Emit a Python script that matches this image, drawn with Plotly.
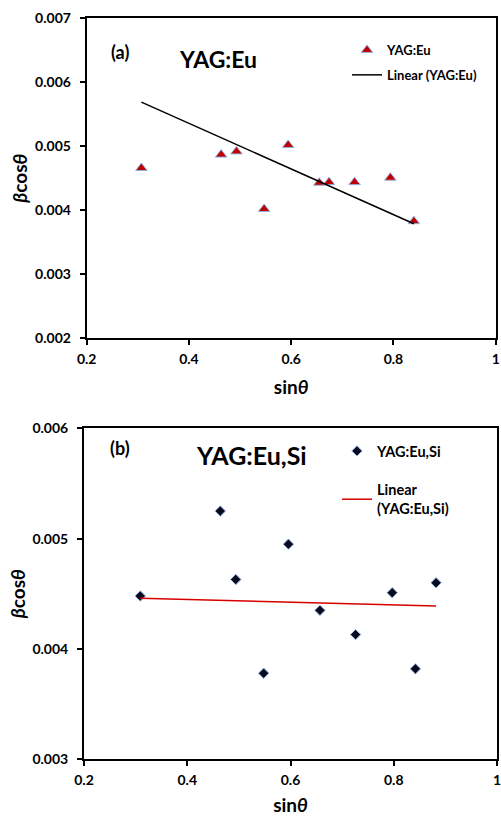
import plotly.graph_objects as go

W, H = 501, 816

# ---- data (a) YAG:Eu ----
sin_a = [0.307, 0.463, 0.493, 0.547, 0.594, 0.655, 0.674, 0.724, 0.794, 0.840]
bcos_a = [0.00466, 0.00487, 0.00492, 0.00402, 0.00502, 0.00443, 0.00444, 0.00444, 0.00451, 0.00383]
trend_a_x = [0.307, 0.840]
trend_a_y = [0.00569, 0.00379]

# ---- data (b) YAG:Eu,Si ----
sin_b = [0.309, 0.464, 0.494, 0.548, 0.596, 0.657, 0.726, 0.797, 0.842, 0.882]
bcos_b = [0.00448, 0.00525, 0.00463, 0.00378, 0.00495, 0.00435, 0.00413, 0.00451, 0.00382, 0.00460]
trend_b_x = [0.309, 0.882]
trend_b_y = [0.00446, 0.00439]

x_ticks = [0.2, 0.4, 0.6, 0.8, 1.0]
x_ticklabels = ["0.2", "0.4", "0.6", "0.8", "1"]
ya_ticks = [0.002, 0.003, 0.004, 0.005, 0.006, 0.007]
yb_ticks = [0.003, 0.004, 0.005, 0.006]

FONT = "Lato"

def px(x):
    return x / W

def py(y):
    return 1 - y / H

fig = go.Figure()

fig.add_trace(go.Scatter(
    x=sin_a, y=bcos_a, mode="markers", name="YAG:Eu",
    marker=dict(symbol="triangle-up", size=10, color="#C00000",
                line=dict(color="#8FB4E3", width=1)),
    xaxis="x", yaxis="y", legend="legend", legendgroup="a1"))
fig.add_trace(go.Scatter(
    x=trend_a_x, y=trend_a_y, mode="lines", name="Linear (YAG:Eu)",
    line=dict(color="black", width=1.5),
    xaxis="x", yaxis="y", legend="legend", legendgroup="a2"))

fig.add_trace(go.Scatter(
    x=sin_b, y=bcos_b, mode="markers", name="YAG:Eu,Si",
    marker=dict(symbol="diamond", size=8, color="#0A0A1E",
                line=dict(color="#8FB4E3", width=1)),
    xaxis="x2", yaxis="y2", legend="legend2", legendgroup="b1"))
fig.add_trace(go.Scatter(
    x=trend_b_x, y=trend_b_y, mode="lines", name="Linear<br>(YAG:Eu,Si)",
    line=dict(color="#D80000", width=1.5),
    xaxis="x2", yaxis="y2", legend="legend2", legendgroup="b2"))

axis_common = dict(
    showline=True, linecolor="black", linewidth=2, mirror=True,
    ticks="outside", ticklen=5, tickwidth=2, tickcolor="black",
    showgrid=False, zeroline=False, automargin=False,
    tickfont=dict(family=FONT, size=14, color="black", weight="bold"),
)

title_font = dict(family=FONT, size=19, color="black", weight="bold")

fig.update_layout(
    width=W, height=H,
    margin=dict(l=0, r=0, t=0, b=0),
    paper_bgcolor="white", plot_bgcolor="white",
    xaxis=dict(domain=[px(86.7), px(495.7)], range=[0.2, 1.0], anchor="y",
               tickvals=x_ticks, ticktext=x_ticklabels, ticklabelstandoff=2,
               ticklabeloverflow="allow",
               title=dict(text="sin<i>θ</i>", font=title_font),
               **axis_common),
    yaxis=dict(domain=[py(338.3), py(18.3)], range=[0.002, 0.007], anchor="x",
               tickvals=ya_ticks, tickformat=".3f", ticklabelstandoff=6,
               title=dict(text="<i>β</i>cos<i>θ</i>", font=title_font, standoff=2),
               **axis_common),
    xaxis2=dict(domain=[px(84), px(497)], range=[0.2, 1.0], anchor="y2",
                tickvals=x_ticks, ticktext=x_ticklabels, ticklabelstandoff=2,
                ticklabeloverflow="allow",
                title=dict(text="sin<i>θ</i>", font=title_font),
                **axis_common),
    yaxis2=dict(domain=[py(759.3), py(428.3)], range=[0.003, 0.006], anchor="x2",
                tickvals=yb_ticks, tickformat=".3f", ticklabelstandoff=6,
                title=dict(text="<i>β</i>cos<i>θ</i>", font=title_font, standoff=2),
                **axis_common),
    legend=dict(x=px(347), y=py(35), xanchor="left", yanchor="top",
                bgcolor="rgba(0,0,0,0)", tracegroupgap=5,
                font=dict(family=FONT, size=13, color="black", weight="bold")),
    legend2=dict(x=px(337), y=py(435), xanchor="left", yanchor="top",
                 bgcolor="rgba(0,0,0,0)", tracegroupgap=17,
                 font=dict(family=FONT, size=14.5, color="black", weight="bold")),
    showlegend=True,
)

ann_font_small = dict(family=FONT, size=18, color="black", weight="bold")
fig.add_annotation(x=px(109), y=py(39), xref="paper", yref="paper", text="(a)",
                   showarrow=False, font=ann_font_small)
fig.add_annotation(x=px(218), y=py(43), xref="paper", yref="paper", text="YAG:Eu",
                   showarrow=False, font=dict(family=FONT, size=23, color="black", weight="bold"))
fig.add_annotation(x=px(108), y=py(448), xref="paper", yref="paper", text="(b)",
                   showarrow=False, font=ann_font_small)
fig.add_annotation(x=px(252), y=py(455), xref="paper", yref="paper", text="YAG:Eu,Si",
                   showarrow=False, font=dict(family=FONT, size=25, color="black", weight="bold"))

# Remove the default page margin so the 501x816 figure fills the window exactly.
fig.write_html("out.html", config={"displayModeBar": False},
               post_script="document.body.style.margin='0';document.body.style.overflow='hidden';")
